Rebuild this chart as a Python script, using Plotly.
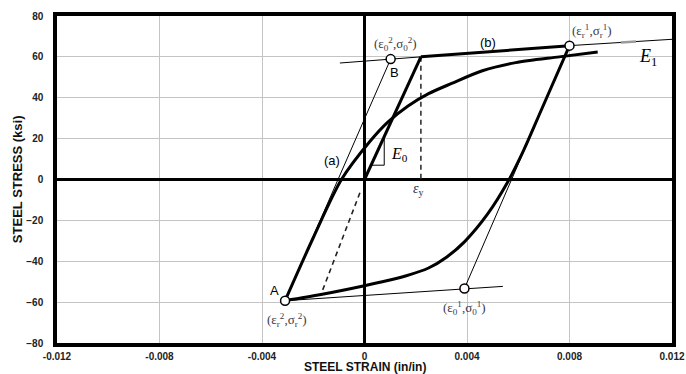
import plotly.graph_objects as go

# ---- steel stress-strain data (strain in in/in, stress in ksi) ----
x_ticks = [-0.012, -0.008, -0.004, 0.0, 0.004, 0.008, 0.012]
x_tick_text = ["-0.012", "-0.008", "-0.004", "0", "0.004", "0.008", "0.012"]
y_ticks = [-80, -60, -40, -20, 0, 20, 40, 60, 80]

# initial elastic branch up to yield
initial_strain = [0.0, 0.0022]
initial_stress = [0.0, 60.0]

# hardening asymptote (b): thick part plus thin extensions
hardening_strain = [0.0022, 0.0080]
hardening_stress = [60.0, 65.5]
hardening_left_strain = [-0.00096, 0.0022]
hardening_left_stress = [57.0, 60.0]
hardening_right_strain = [0.0080, 0.0120]
hardening_right_stress = [65.5, 68.6]
hardening_fleck_strain = [0.0100, 0.0106]
hardening_fleck_stress = [67.05, 67.5]

# reversal curve from (eps_r1, sig_r1) down to A
unload_strain = [0.0080, 0.0069, 0.0062, 0.0056, 0.0048, 0.0039, 0.0032,
                 0.0025, 0.0016, 0.0006, 0.0, -0.0017, -0.0031]
unload_stress = [65.5, 34.0, 14.0, -1.0, -17.0, -30.5, -38.0,
                 -43.3, -47.2, -50.3, -52.0, -56.3, -59.3]

# reloading curve (a) from A towards the upper asymptote
reload_strain = [-0.0031, -0.0020, -0.0009, 0.0002, 0.0009, 0.0017, 0.0025,
                 0.0034, 0.0046, 0.0059, 0.0076, 0.0091]
reload_stress = [-59.3, -28.5, 0.0, 18.5, 28.0, 36.0, 42.0,
                 47.0, 53.2, 57.2, 60.0, 62.4]

# thin asymptotes of the reversal branches
lower_asym_strain = [-0.0031, 0.0054]
lower_asym_stress = [-59.3, -52.3]
unload_asym_strain = [0.0080, 0.0039]
unload_asym_stress = [65.5, -53.3]
reload_asym_strain = [-0.0031, 0.00102]
reload_asym_stress = [-59.3, 58.9]

# dashed construction lines
yield_strain = [0.0022, 0.0022]
yield_stress = [60.0, 0.0]
elastic_back_strain = [-0.00018, -0.0017]
elastic_back_stress = [-6.5, -56.3]

# slope triangle for E0
tri_strain = [0.00026, 0.00077, 0.00077]
tri_stress = [7.0, 7.0, 21.0]

# characteristic points: B, (eps_r1, sig_r1), A, (eps_01, sig_01)
pt_strain = [0.00102, 0.0080, -0.0031, 0.0039]
pt_stress = [58.9, 65.5, -59.3, -53.3]

fig = go.Figure()


def add_line(xs, ys, width, dash="solid", color="black", shape="linear"):
    fig.add_trace(go.Scatter(x=xs, y=ys, mode="lines",
                             line=dict(color=color, width=width, dash=dash,
                                       shape=shape, smoothing=0.8),
                             hoverinfo="skip", showlegend=False))


add_line(hardening_left_strain, hardening_left_stress, 1)
add_line(hardening_right_strain, hardening_right_stress, 1)
add_line(hardening_fleck_strain, hardening_fleck_stress, 2.5, color="#9a9a9a")
add_line(lower_asym_strain, lower_asym_stress, 1)
add_line(unload_asym_strain, unload_asym_stress, 1)
add_line(reload_asym_strain, reload_asym_stress, 1)
add_line(yield_strain, yield_stress, 1.6, dash="5px,4px", color="#333333")
add_line(elastic_back_strain, elastic_back_stress, 1.6, dash="5px,4px", color="#222222")
add_line(tri_strain, tri_stress, 1)
add_line(initial_strain, initial_stress, 3)
add_line(hardening_strain, hardening_stress, 3)
add_line(unload_strain, unload_stress, 3, shape="spline")
add_line(reload_strain, reload_stress, 3, shape="spline")

fig.add_trace(go.Scatter(x=pt_strain, y=pt_stress, mode="markers",
                         marker=dict(size=9, color="white",
                                     line=dict(color="black", width=1.5)),
                         hoverinfo="skip", showlegend=False))

serif = "Liberation Serif, DejaVu Serif, serif"
sans = "Liberation Sans, Arial, sans-serif"


def label(x, y, text, size, family, color="black"):
    fig.add_annotation(x=x, y=y, text=text, showarrow=False,
                       font=dict(size=size, family=family, color=color),
                       xanchor="center", yanchor="middle")


label(0.0012, 66.5, "(ε<sub>0</sub><sup>2</sup>,σ<sub>0</sub><sup>2</sup>)", 13, serif, "#3a3a4a")
label(0.00887, 72.5, "(ε<sub>r</sub><sup>1</sup>,σ<sub>r</sub><sup>1</sup>)", 13, serif, "#3a3a4a")
label(-0.00304, -68.5, "(ε<sub>r</sub><sup>2</sup>,σ<sub>r</sub><sup>2</sup>)", 13, serif, "#3a3a4a")
label(0.00392, -62.8, "(ε<sub>0</sub><sup>1</sup>,σ<sub>0</sub><sup>1</sup>)", 13, serif, "#3a3a4a")
label(0.00119, 52.6, "B", 13, sans)
label(-0.0035, -54.4, "A", 13, sans)
label(0.00483, 66.8, "(b)", 13, sans)
label(-0.00128, 9.3, "(a)", 13, sans)
label(0.01107, 59.5, "<i>E</i><sub>1</sub>", 18, serif)
label(0.00135, 12.0, "<i>E</i><sub>0</sub>", 16, serif)
label(0.0021, -4.8, "<i>ε</i><sub>y</sub>", 14, serif, "#2a2a3a")

# axis titles
fig.add_annotation(x=0.5, y=-0.073, xref="paper", yref="paper",
                   text="<b>STEEL STRAIN (in/in)</b>", showarrow=False,
                   font=dict(size=12, family=sans, color="#111111"),
                   xanchor="center", yanchor="middle")
fig.add_annotation(x=-0.064, y=0.5, xref="paper", yref="paper",
                   text="<b>STEEL STRESS (ksi)</b>", showarrow=False, textangle=-90,
                   font=dict(size=13, family=sans, color="#111111"),
                   xanchor="center", yanchor="middle")

axis_common = dict(showline=True, mirror=True, linecolor="black", linewidth=3.5,
                   showgrid=True, gridcolor="#c4c4c4", gridwidth=1,
                   zeroline=True, zerolinecolor="black", zerolinewidth=3,
                   automargin=False,
                   ticks="", tickfont=dict(size=10, family=sans, color="#222222",
                                           weight="bold"))

fig.update_xaxes(range=[-0.012, 0.012], tickvals=x_ticks, ticktext=x_tick_text,
                 ticklabelstandoff=1, **axis_common)
fig.update_yaxes(range=[-80, 80], tickvals=y_ticks, ticklabelstandoff=8,
                 **axis_common)

fig.update_layout(width=686, height=374,
                  margin=dict(l=57, r=14, t=16, b=31),
                  paper_bgcolor="white", plot_bgcolor="white")

fig.write_html("out.html")
